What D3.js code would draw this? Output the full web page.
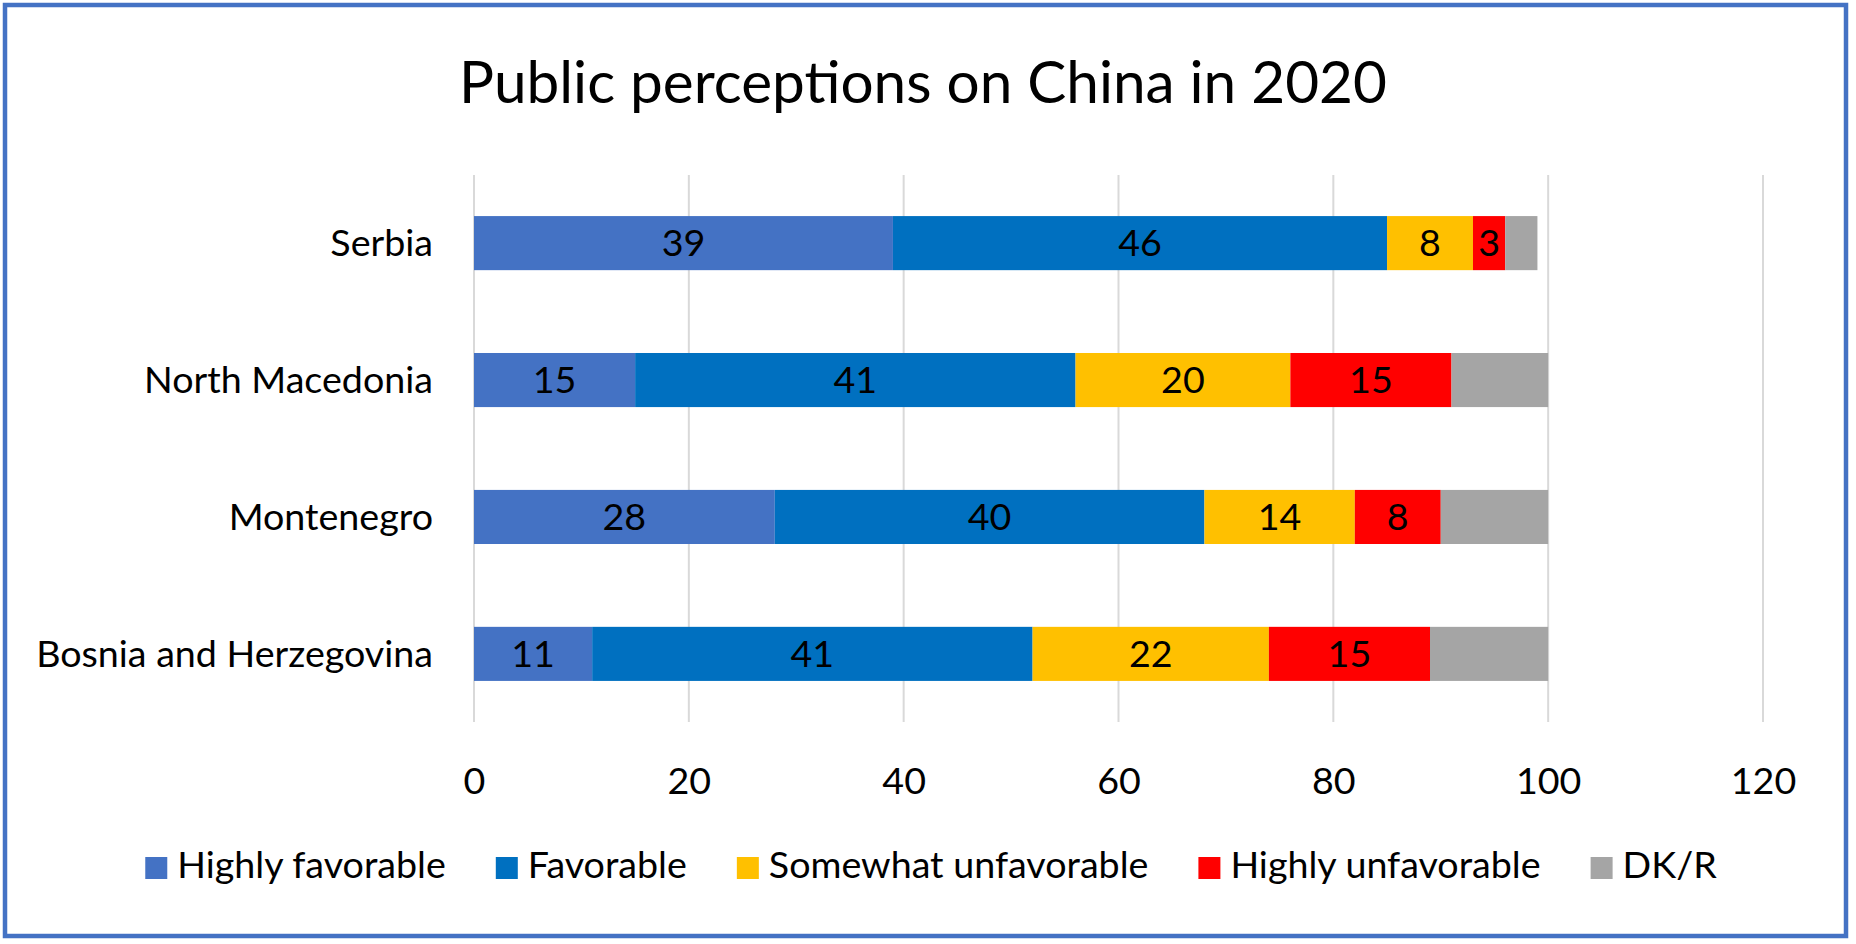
<!DOCTYPE html>
<html>
<head>
<meta charset="utf-8">
<script src="https://cdn.jsdelivr.net/npm/d3@7"></script>
<style>
  html, body { margin: 0; padding: 0; background: #fff; }
  svg { display: block; }
  text { font-family: Lato, "Open Sans", sans-serif; fill: #000; }
</style>
</head>
<body>
<svg id="chart" width="1856" height="944"></svg>
<script>
const title = "Public perceptions on China in 2020";
const categories = ["Serbia", "North Macedonia", "Montenegro", "Bosnia and Herzegovina"];
const seriesNames = ["Highly favorable", "Favorable", "Somewhat unfavorable", "Highly unfavorable", "DK/R"];
const seriesColors = ["#4472C4", "#0070C0", "#FFC000", "#FF0000", "#A5A5A5"];
const highlyFavorable    = [39, 15, 28, 11];
const favorable          = [46, 41, 40, 41];
const somewhatUnfavorable = [8, 20, 14, 22];
const highlyUnfavorable  = [3, 15, 8, 15];
const dkR                = [3, 9, 10, 11];
const showLabel = [true, true, true, true, false];
const xTicks = [0, 20, 40, 60, 80, 100, 120];

const seriesValues = [highlyFavorable, favorable, somewhatUnfavorable, highlyUnfavorable, dkR];

const svg = d3.select("#chart");

// font fitting helper (keeps Calibri-like proportions)
function measure(str, size) {
  const t = svg.append("text").attr("font-size", size).text(str);
  const w = t.node().getComputedTextLength();
  t.remove();
  return w;
}
const baseSize = 40 * 397 / measure("Bosnia and Herzegovina", 40);
const titleSize = 60 * 928 / measure(title, 60);

// border
svg.append("rect")
  .attr("x", 5).attr("y", 5).attr("width", 1841).attr("height", 931)
  .attr("fill", "#fff").attr("stroke", "#4472C4").attr("stroke-width", 4.5);

// title
svg.append("text")
  .attr("x", 923).attr("y", 103)
  .attr("text-anchor", "middle")
  .attr("font-size", titleSize)
  .text(title);

const plotTop = 175, plotBottom = 722;
const x = d3.scaleLinear().domain([0, 120]).range([474, 1763]);
const y = d3.scaleBand().domain(categories).range([plotTop, plotBottom]).paddingInner(0.605).paddingOuter(0.3);

// gridlines
svg.append("g").selectAll("line").data(xTicks).join("line")
  .attr("x1", d => x(d)).attr("x2", d => x(d))
  .attr("y1", plotTop).attr("y2", plotBottom)
  .attr("stroke", "#D9D9D9").attr("stroke-width", 2);

// x axis
const xAxis = d3.axisBottom(x).tickValues(xTicks).tickSize(0).tickPadding(0);
const gx = svg.append("g").attr("transform", "translate(0,794)").call(xAxis);
gx.select(".domain").remove();
gx.selectAll("text")
  .attr("dy", 0).attr("y", 0)
  .attr("font-size", baseSize)
  .style("font-family", "Lato, 'Open Sans', sans-serif")
  .attr("fill", "#000");

// y axis labels
const yAxis = d3.axisLeft(y).tickSize(0).tickPadding(0);
const gy = svg.append("g").attr("transform", "translate(433,0)").call(yAxis);
gy.select(".domain").remove();
gy.selectAll("text")
  .attr("dy", "0.35em")
  .attr("x", 0)
  .attr("font-size", baseSize)
  .style("font-family", "Lato, 'Open Sans', sans-serif")
  .attr("fill", "#000");

// stacked data
const rows = categories.map((c, i) => {
  const r = { category: c };
  seriesNames.forEach((s, j) => { r[s] = seriesValues[j][i]; });
  return r;
});
const stacked = d3.stack().keys(seriesNames)(rows);

const layers = svg.append("g").selectAll("g").data(stacked).join("g")
  .attr("fill", (d, i) => seriesColors[i]);

layers.selectAll("rect").data(d => d).join("rect")
  .attr("x", d => x(d[0]))
  .attr("y", d => y(d.data.category))
  .attr("width", d => x(d[1]) - x(d[0]))
  .attr("height", y.bandwidth());

// data labels
svg.append("g").selectAll("g").data(stacked.filter((d, i) => showLabel[i])).join("g")
  .selectAll("text").data(d => d.map(v => ({ v, key: d.key }))).join("text")
  .attr("x", d => (x(d.v[0]) + x(d.v[1])) / 2)
  .attr("y", d => y(d.v.data.category) + y.bandwidth() / 2)
  .attr("dy", "0.35em")
  .attr("text-anchor", "middle")
  .attr("font-size", baseSize)
  .text(d => d.v.data[d.key]);

// legend
const legend = svg.append("g");
const sq = 22, gapSq = 10, gapItem = 50;
let widths = seriesNames.map(s => measure(s, baseSize));
let total = widths.reduce((a, b) => a + b, 0) + seriesNames.length * (sq + gapSq) + (seriesNames.length - 1) * gapItem;
let cx = 931 - total / 2;
seriesNames.forEach((s, i) => {
  legend.append("rect")
    .attr("x", cx).attr("y", 857).attr("width", sq).attr("height", sq)
    .attr("fill", seriesColors[i]);
  legend.append("text")
    .attr("x", cx + sq + gapSq).attr("y", 878)
    .attr("font-size", baseSize)
    .text(s);
  cx += sq + gapSq + widths[i] + gapItem;
});
</script>
</body>
</html>
